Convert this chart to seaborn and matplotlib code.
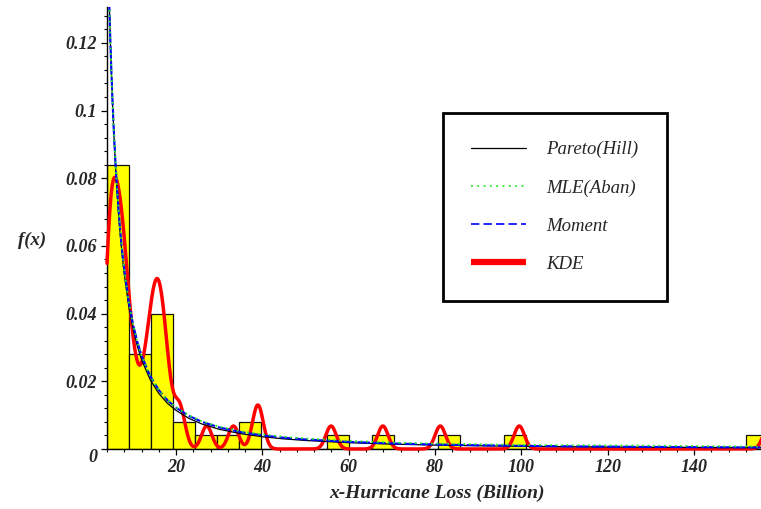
import numpy as np
import pandas as pd
import matplotlib
matplotlib.use("Agg")
import matplotlib.pyplot as plt
import matplotlib.transforms as mtrans
from matplotlib.lines import Line2D
from matplotlib.ticker import FixedLocator, FixedFormatter, MultipleLocator
import seaborn as sns

# ---- data ----
# hurricane losses (billion), reconstructed so that histogram & KDE match
losses = [4.0, 4.1, 4.2, 4.4, 4.6, 4.85, 5.1, 5.35, 5.6, 5.85, 6.1, 6.35, 6.6, 6.85,
          7.1, 7.35, 7.6, 7.9, 8.2, 8.6, 9.0,
          9.5, 10.2, 11.0, 12.1, 13.0, 13.6, 14.1,
          14.5, 14.9, 15.3, 15.7, 16.0, 16.3, 16.7, 17.2, 17.7, 18.4,
          20.3, 21.2, 27.1, 33.3, 38.6, 39.3, 55.9, 67.9, 81.2, 99.5, 157.2]
n_bins = 30
kde_bandwidth = 1.2

# fitted density curves
curve_x = [4.0, 4.2, 4.47, 4.6, 4.8, 5.0, 5.3, 5.6, 6.0, 6.5, 7.0, 7.5, 8.0, 9.0, 10.0,
           11.0, 12.0, 14.0, 16.0, 18.0, 20.0, 23.0, 26.0, 30.0, 35.0, 40.0, 45.0,
           50.0, 60.0, 70.0, 80.0, 90.0, 100.0, 115.0, 130.0, 145.0, 156.0]
pareto_hill = [0.1618, 0.1493, 0.1347, 0.1285, 0.1198, 0.1120, 0.1017, 0.0929, 0.0829,
               0.0727, 0.0643, 0.0574, 0.0516, 0.0425, 0.0357, 0.0305, 0.0264, 0.0205,
               0.0164, 0.0135, 0.0114, 0.00903, 0.00738, 0.00582, 0.00452, 0.00362,
               0.00298, 0.00251, 0.00186, 0.00144, 0.00115, 0.00095, 0.00080, 0.00063,
               0.00052, 0.00043, 0.00038]
mle_aban = [np.nan, np.nan, 0.1342, 0.1282, 0.1197, 0.1122, 0.1022, 0.0935, 0.0837,
            0.0737, 0.0655, 0.0586, 0.0529, 0.0438, 0.0370, 0.0318, 0.0276, 0.0216,
            0.0174, 0.0144, 0.0123, 0.0099, 0.0082, 0.0066, 0.0052, 0.0043, 0.0036,
            0.0031, 0.0024, 0.0019, 0.0016, 0.0014, 0.0012, 0.0011, 0.0010, 0.0008,
            0.0007]
moment = [np.nan, np.nan, 0.1342, 0.1282, 0.1197, 0.1122, 0.1022, 0.0935, 0.0837,
          0.0737, 0.0655, 0.0586, 0.0529, 0.0438, 0.0370, 0.0318, 0.0276, 0.0216,
          0.0174, 0.0144, 0.0122, 0.00976, 0.00802, 0.00638, 0.00499, 0.00403,
          0.00333, 0.00282, 0.00210, 0.00164, 0.00133, 0.00110, 0.00093, 0.00074,
          0.00061, 0.00051, 0.00046]

x_ticks = [20, 40, 60, 80, 100, 120, 140]
x_tick_labels = ["20", "40", "60", "80", "100", "120", "140"]
y_ticks = [0, 0.02, 0.04, 0.06, 0.08, 0.1, 0.12]
y_tick_labels = ["0", "0.02", "0.04", "0.06", "0.08", "0.1", "0.12"]
legend_labels = ["Pareto(Hill)", "MLE(Aban)", "Moment", "KDE"]
x_label = "x-Hurricane Loss (Billion)"
y_label = "f(x)"

# ---- style ----
sns.set_style("ticks")
plt.rcParams["font.family"] = ["Liberation Serif", "DejaVu Serif"]
plt.rcParams["font.weight"] = "bold"
plt.rcParams["font.style"] = "italic"

fig = plt.figure(figsize=(7.61, 5.09), dpi=100)
ax = fig.add_axes([0.1406, 0.1179, 0.8594, 0.8684])

data = np.asarray(losses)
sns.histplot(x=data, bins=n_bins, binrange=(data.min(), data.max()), stat="density",
             color="#FFFF00", edgecolor="#111111", linewidth=0.9, alpha=1.0, ax=ax,
             zorder=1)

bw = kde_bandwidth / np.std(data, ddof=1)
sns.kdeplot(x=data, bw_method=bw, gridsize=4000, cut=4, clip=(data.min(), 165),
            color="#FF0000", linewidth=2.5, ax=ax, zorder=3, clip_on=False)

cdf = pd.DataFrame({"x": curve_x, "hill": pareto_hill, "aban": mle_aban, "mom": moment})
sns.lineplot(data=cdf, x="x", y="hill", color="black", linewidth=0.9, ax=ax, zorder=4)
sns.lineplot(data=cdf, x="x", y="mom", color="#0000FF", linewidth=1.5,
             linestyle=(0, (6, 1.5)), ax=ax, zorder=5)
sns.lineplot(data=cdf, x="x", y="aban", color="#22EE22", linewidth=1.3,
             linestyle=(0, (1, 2)), ax=ax, zorder=6)

ax.set_xlim(4.0, 155.5)
ax.set_ylim(0, 0.1306)

ax.xaxis.set_major_locator(FixedLocator(x_ticks))
ax.xaxis.set_major_formatter(FixedFormatter(x_tick_labels))
ax.yaxis.set_major_locator(FixedLocator(y_ticks))
ax.yaxis.set_major_formatter(FixedFormatter(y_tick_labels))
ax.xaxis.set_minor_locator(MultipleLocator(4))
ax.yaxis.set_minor_locator(MultipleLocator(0.004))
ax.tick_params(axis="both", which="major", length=4, width=0.9, direction="out",
               labelsize=13, pad=3, color="black")
ax.tick_params(axis="both", which="minor", length=2.5, width=0.8, direction="out",
               color="black")

for s in ["top", "right"]:
    ax.spines[s].set_visible(False)
for s in ["left", "bottom"]:
    ax.spines[s].set_color("black")
    ax.spines[s].set_linewidth(1.0)

ax.set_xlabel(x_label, fontsize=14, fontweight="bold", fontstyle="italic")
ax.xaxis.set_label_coords(0.505, -0.0995)
ax.xaxis.label.set_va("center")
ax.set_ylabel(y_label, fontsize=13.5, fontweight="bold", fontstyle="italic",
              rotation=0)
ax.yaxis.set_label_coords(-0.115, 0.473)
ax.yaxis.label.set_va("center")
ax.yaxis.label.set_ha("center")

# Maple puts the origin label slightly lower
fig.canvas.draw()
lab0 = ax.yaxis.get_major_ticks()[0].label1
lab0.set_transform(lab0.get_transform() +
                   mtrans.ScaledTranslation(0, -0.07, fig.dpi_scale_trans))

handles = [Line2D([], [], color="black", linewidth=0.9),
           Line2D([], [], color="#22EE22", linewidth=1.3, linestyle=(0, (1, 2.5))),
           Line2D([], [], color="#0000FF", linewidth=1.2, linestyle=(0, (5, 2.5))),
           Line2D([], [], color="#FF0000", linewidth=4.5, solid_capstyle="butt")]
leg = ax.legend(handles, legend_labels, loc="upper left",
                bbox_to_anchor=(443 / 761, 1 - 113 / 509),
                bbox_transform=fig.transFigure, borderaxespad=0,
                prop={"family": "Liberation Serif", "style": "italic",
                      "weight": "normal", "size": 13.5},
                frameon=True, fancybox=False, shadow=False, framealpha=1,
                edgecolor="black", borderpad=1.5, labelspacing=1.12,
                handlelength=2.95, handletextpad=1.07)
leg.get_frame().set_linewidth(2.0)

fig.savefig("out.png", dpi=100)
